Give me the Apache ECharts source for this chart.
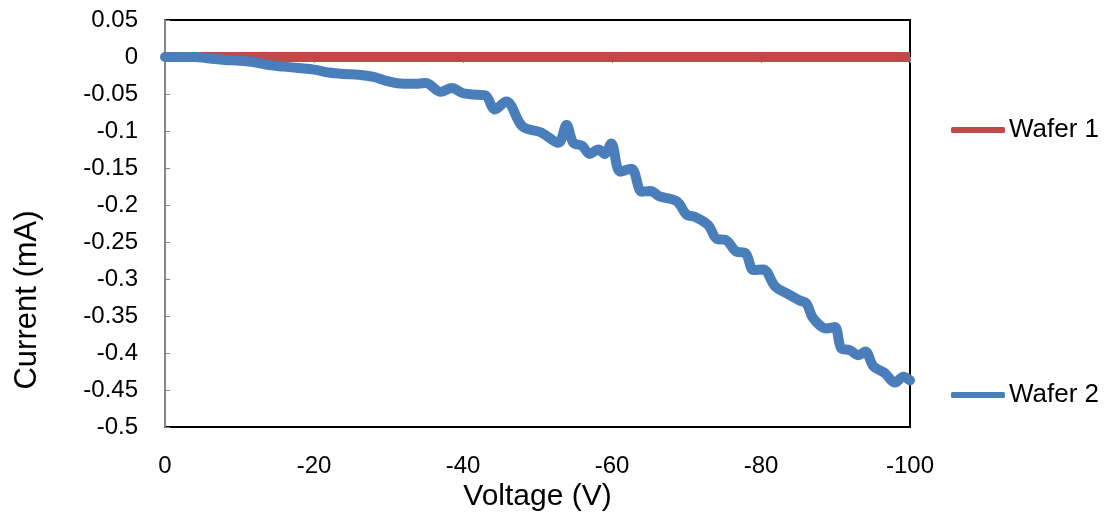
<!DOCTYPE html>
<html><head><meta charset="utf-8">
<script src="https://cdn.jsdelivr.net/npm/echarts@6/dist/echarts.min.js"></script>
<style>html,body{margin:0;padding:0;background:#fff}#c{width:1119px;height:524px}</style>
</head><body><div id="c"></div>
<script>
// Tick labels
const xTickLabels = [0, -20, -40, -60, -80, -100];
const yTickLabels = [0.05, 0, -0.05, -0.1, -0.15, -0.2, -0.25, -0.3, -0.35, -0.4, -0.45, -0.5];

// Series names
const seriesNames = ['Wafer 1', 'Wafer 2'];

// Wafer 1: flat at zero
const wafer1V = [0, -20, -40, -60, -80, -100];
const wafer1I = [0, 0, 0, 0, 0, 0];

// Wafer 2
const wafer2V = [0, -2, -4, -6, -8, -10, -12, -14, -16, -18, -20, -22, -24, -26, -28, -30, -32, -34, -35, -37, -38.5, -40, -42, -43, -44.3, -45.8, -48, -50.5, -52.8, -53.9, -54.8, -56, -57, -58.2, -59, -59.9, -61.1, -62.6, -64, -65.2, -66.3, -68.7, -70, -71.1, -72.9, -74.1, -75.2, -76.7, -77.9, -79, -80.3, -81.9, -83.4, -85.2, -86.1, -87, -88.8, -89.9, -90.8, -91.9, -93.1, -94, -95.1, -96.6, -98, -99.1, -100];
const wafer2I = [0, 0, 0, -0.002, -0.004, -0.005, -0.007, -0.011, -0.013, -0.015, -0.017, -0.021, -0.023, -0.024, -0.027, -0.033, -0.036, -0.036, -0.035, -0.047, -0.042, -0.049, -0.051, -0.052, -0.071, -0.060, -0.094, -0.102, -0.116, -0.092, -0.116, -0.120, -0.131, -0.125, -0.131, -0.117, -0.155, -0.151, -0.182, -0.181, -0.188, -0.195, -0.213, -0.216, -0.227, -0.246, -0.247, -0.263, -0.265, -0.288, -0.287, -0.310, -0.319, -0.329, -0.333, -0.353, -0.367, -0.365, -0.394, -0.396, -0.403, -0.398, -0.418, -0.427, -0.440, -0.432, -0.437];

const chart = echarts.init(document.getElementById('c'), null, {renderer: 'canvas'});
const FONT = 'Liberation Sans, Arial, sans-serif';
const xMin = Math.min(...xTickLabels), xMax = Math.max(...xTickLabels);
const yMin = Math.min(...yTickLabels), yMax = Math.max(...yTickLabels);
const RED = '#BE4B48', BLUE = '#4A7EBB';

const legendBase = {orient: 'vertical', left: 951, itemWidth: 54, itemHeight: 6, padding: 0, itemGap: 0,
  icon: 'roundRect', textStyle: {fontFamily: FONT, fontSize: 26, color: '#000', padding: [0, 0, 0, -1]}};

const option = {
  backgroundColor: '#fff',
  animation: false,
  grid: {left: 165, right: 209, top: 20, bottom: 97, show: true, borderColor: '#000', borderWidth: 2, backgroundColor: 'transparent', outerBoundsMode: 'none'},
  xAxis: [
    {type: 'value', min: xMin, max: xMax, interval: 20, inverse: true, position: 'bottom',
     axisLine: {show: false, onZero: false}, axisTick: {show: false}, splitLine: {show: false},
     axisLabel: {fontFamily: FONT, fontSize: 24, color: '#000', margin: 27}},
    {type: 'value', min: xMin, max: xMax, interval: 20, inverse: true, position: 'top', offset: -37,
     axisLine: {show: true, onZero: false, lineStyle: {color: '#868686', width: 1}},
     axisTick: {show: true, inside: true, length: 6, lineStyle: {color: '#868686'}},
     splitLine: {show: false}, axisLabel: {show: false}}
  ],
  yAxis: {type: 'value', min: yMin, max: yMax, interval: 0.05,
    axisLine: {show: true, onZero: false, lineStyle: {color: '#868686', width: 2}},
    axisTick: {show: true, inside: true, length: 5, lineStyle: {color: '#868686', width: 1}},
    splitLine: {show: false},
    axisLabel: {fontFamily: FONT, fontSize: 24, color: '#000', margin: 27,
      formatter: v => String(+v.toFixed(2))}},
  legend: [
    Object.assign({}, legendBase, {data: [seriesNames[0]], top: 117}),
    Object.assign({}, legendBase, {data: [seriesNames[1]], top: 382})
  ],
  graphic: [
    {type: 'text', style: {text: 'Voltage (V)', font: '30px ' + FONT, fill: '#000', align: 'center', verticalAlign: 'middle'}, x: 537.5, y: 497},
    {type: 'text', style: {text: 'Current (mA)', font: '31px ' + FONT, fill: '#000', align: 'center', verticalAlign: 'middle'}, x: 27, y: 300, rotation: Math.PI / 2}
  ],
  series: [
    {name: seriesNames[0], type: 'line', xAxisIndex: 0, symbol: 'none', smooth: false,
     data: wafer1V.map((v, i) => [v, wafer1I[i]]),
     lineStyle: {color: RED, width: 10, cap: 'butt'}, itemStyle: {color: RED}, z: 2},
    {name: seriesNames[1], type: 'line', xAxisIndex: 0, symbol: 'none', smooth: 0.35,
     data: wafer2V.map((v, i) => [v, wafer2I[i]]),
     lineStyle: {color: BLUE, width: 10, cap: 'round', join: 'round'}, itemStyle: {color: BLUE}, z: 3}
  ]
};
chart.setOption(option);
</script>
</body></html>
